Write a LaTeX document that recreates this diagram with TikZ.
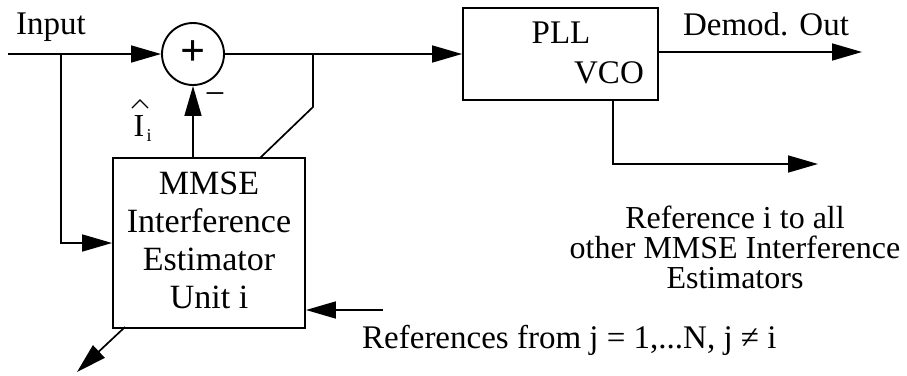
\documentclass[tikz,border=0pt]{standalone}
\usepackage{fontspec}
\setmainfont{Liberation Serif}
\usetikzlibrary{arrows.meta}
\tikzset{
  wire/.style={line width=1.7pt},
  arr/.style={wire,-{Triangle[length=30pt,width=17pt]}},
  blk/.style={draw,line width=1.9pt,inner sep=0pt},
  lbl/.style={inner sep=0pt,font=\fontsize{33}{30}\selectfont},
  boxtxt/.style={inner sep=0pt,align=center,font=\fontsize{34}{38}\selectfont}
}
\begin{document}
\begin{tikzpicture}[x=1pt,y=-1pt]
\useasboundingbox (0,0) rectangle (907,375);
% blocks
\node[blk,circle,minimum size=62pt] (S) at (193,54) {};
\node[inner sep=0pt,font=\fontsize{44}{44}\selectfont\bfseries] (plus) at (193,53) {+};
\node[blk,minimum width=192pt,minimum height=170pt] (M) at (209,243) {};
\node[boxtxt] (Mt) at (209,240) {MMSE\\Interference\\Estimator\\Unit i};
\node[blk,minimum width=195pt,minimum height=92pt] (P) at (560.5,54) {};
\node[lbl] (pll) at (561,33) {PLL};
\node[lbl] (vco) at (609,73) {VCO};
% coordinates
\coordinate (in) at (8,54);
\coordinate (j1) at (61,54);
\coordinate (j2) at (313,54);
\coordinate (k2) at (313,107);
\coordinate (mtop) at (260,158);
\coordinate (dem) at (862,52);
\coordinate (rs) at (613,100);
\coordinate (re) at (818,164);
\coordinate (rin) at (383,310);
\coordinate (ms) at (125,327);
\coordinate (me) at (77,372);
% connectors
\draw[arr] (in) -- (S.west);
\draw[arr] (j1) |- (M.west);
\draw[arr] (S.east) -- (S.east -| P.west);
\draw[wire] (j2) -- (k2) -- (mtop);
\draw[arr] (S.south |- M.north) -- (S.south);
\draw[arr] (P.east |- dem) -- (dem);
\draw[arr] (rs) |- (re);
\draw[arr] (rin) -- (rin -| M.east);
\draw[arr] (ms) -- (me);
% labels
\node[lbl] (tin) at (51,27) {Input};
\node[lbl] (tdem) at (766,24) {Demod. Out};
\node[lbl,align=center,font=\fontsize{32}{30}\selectfont] (tref) at (735,247) {Reference i to all\\other MMSE Interference\\Estimators};
\node[lbl,anchor=west] (trefs) at (362,340) {References from j = 1,...N, j ≠ i};
\node[inner sep=0pt,font=\fontsize{32}{32}\selectfont] (ihat) at (139,126) {I};
\node[inner sep=0pt,font=\fontsize{18}{18}\selectfont] (isub) at (149,136) {i};
\draw[line width=1.2pt] (132,108) -- (140,100) -- (148,108);
\node[inner sep=0pt,font=\fontsize{36}{36}\selectfont] (minus) at (215,99) {−};
\end{tikzpicture}
\end{document}
